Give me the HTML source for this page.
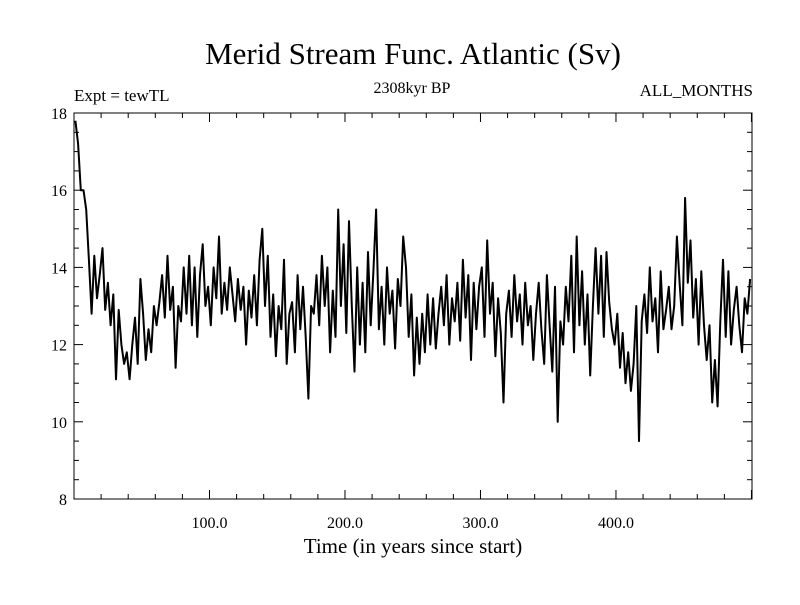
<!DOCTYPE html>
<html><head><meta charset="utf-8"><style>
body{margin:0;background:#fff}
svg text{font-family:"Liberation Serif",serif;fill:#000}
</style></head><body>
<svg id="c" width="800" height="600">
<text x="413" y="64" font-size="31" text-anchor="middle">Merid Stream Func. Atlantic (Sv)</text>
<text x="74" y="101" font-size="17">Expt = tewTL</text>
<text x="412" y="93" font-size="16" text-anchor="middle">2308kyr BP</text>
<text x="753" y="96" font-size="17" text-anchor="end">ALL_MONTHS</text>
<text x="413" y="553" font-size="21" text-anchor="middle">Time (in years since start)</text>
<g id="ax"></g>
<path id="ln" fill="none" stroke="#000" stroke-width="2" stroke-linejoin="round"/>
</svg>
<script>
const yearStart = 1, yearStep = 2;
const values = [
17.8,17.2,16.0,16.0,15.5,14.2,12.8,14.3,13.2,13.8,
14.5,12.9,13.6,12.5,13.3,11.1,12.9,12.0,11.5,11.8,
11.1,12.0,12.7,11.5,13.7,12.8,11.6,12.4,11.8,13.0,
12.5,13.1,13.8,12.7,14.3,12.9,13.5,11.4,13.0,12.6,
14.0,12.8,14.3,12.5,14.0,12.2,13.8,14.6,13.0,13.5,
12.5,14.0,13.2,14.8,12.8,13.6,12.9,14.0,13.3,12.6,
13.7,12.9,13.5,12.0,13.4,12.7,13.8,12.5,14.2,15.0,
13.0,14.3,12.2,13.3,11.7,13.0,12.4,14.2,11.5,12.8,
13.1,11.8,13.8,12.4,13.5,12.2,10.6,13.0,12.8,13.8,
12.5,14.3,13.0,14.0,11.8,13.4,12.2,15.5,13.0,14.6,
12.3,15.2,13.0,11.3,14.0,12.0,13.6,11.8,14.4,12.5,
13.9,15.5,12.4,13.5,12.0,14.0,12.8,13.4,11.9,13.7,
13.0,14.8,14.0,12.2,13.3,11.2,12.7,11.5,12.8,11.8,
13.3,12.0,13.2,11.9,12.8,13.5,12.5,13.8,12.0,13.2,
12.6,13.6,12.1,14.2,12.7,13.8,11.6,13.6,12.4,13.5,
14.0,12.2,14.7,12.8,13.6,11.7,13.2,12.3,10.5,12.8,
13.4,12.2,13.8,12.6,13.3,12.0,13.6,12.5,13.0,11.6,
12.8,13.6,12.4,11.5,13.8,12.5,11.3,13.5,10.0,12.6,
12.0,13.5,12.6,14.3,11.8,14.8,12.5,13.9,12.0,13.3,
11.2,13.0,14.5,12.8,14.3,12.2,14.4,13.1,12.4,12.0,
12.8,11.4,12.3,11.0,11.8,10.8,11.5,13.0,9.5,12.6,
13.3,12.3,14.0,12.6,13.2,11.8,13.9,12.4,12.9,13.5,
12.4,13.0,14.8,13.6,12.5,15.8,13.6,14.7,12.7,13.7,
12.0,13.9,12.5,11.6,12.5,10.5,11.6,10.4,12.6,14.2,
12.2,13.9,12.0,12.9,13.5,12.5,11.8,13.2,12.8,13.7];
const yTicks = [8,10,12,14,16,18];
const xTicks = [100,200,300,400];
const xTickLabels = ["100.0","200.0","300.0","400.0"];
const L=74,R=752,T=113,B=499, x0=0,x1=500.4, y0=8,y1=18;
const X=v=>L+(v-x0)/(x1-x0)*(R-L), Y=v=>B-(v-y0)/(y1-y0)*(B-T);
const NS="http://www.w3.org/2000/svg", ax=document.getElementById('ax');
function line(a,b,c,d){const e=document.createElementNS(NS,'line');e.setAttribute('x1',a);e.setAttribute('y1',b);e.setAttribute('x2',c);e.setAttribute('y2',d);e.setAttribute('stroke','#000');e.setAttribute('stroke-width','1');


ax.appendChild(e);return e;}
const fr=document.createElementNS(NS,'rect');fr.setAttribute('x',L);fr.setAttribute('y',T);fr.setAttribute('width',R-L);fr.setAttribute('height',B-T);fr.setAttribute('fill','none');fr.setAttribute('stroke','#000');


ax.appendChild(fr);
for(let v=y0;v<=y1;v+=0.5){const y=Y(v),maj=(v%2===0),len=maj?9:5;line(L,y,L+len,y);line(R,y,R-len,y);}
for(let v=20;v<x1;v+=20){const x=X(v),maj=(v%100===0),len=maj?9:5;line(x,B,x,B-len);line(x,T,x,T+len);}
yTicks.forEach(v=>{const t=document.createElementNS(NS,'text');t.setAttribute('x',67);t.setAttribute('y',Y(v)+6);t.setAttribute('text-anchor','end');t.setAttribute('font-size','16');t.textContent=v;


ax.appendChild(t);});
xTicks.forEach((v,i)=>{const t=document.createElementNS(NS,'text');t.setAttribute('x',X(v));t.setAttribute('y',528);t.setAttribute('text-anchor','middle');t.setAttribute('font-size','16');t.textContent=xTickLabels[i];


ax.appendChild(t);});
let d='';values.forEach((v,i)=>{d+=(i?'L':'M')+X(yearStart+i*yearStep).toFixed(1)+','+Y(v).toFixed(1);});
document.getElementById('ln').setAttribute('d',d);
</script>
</body></html>
